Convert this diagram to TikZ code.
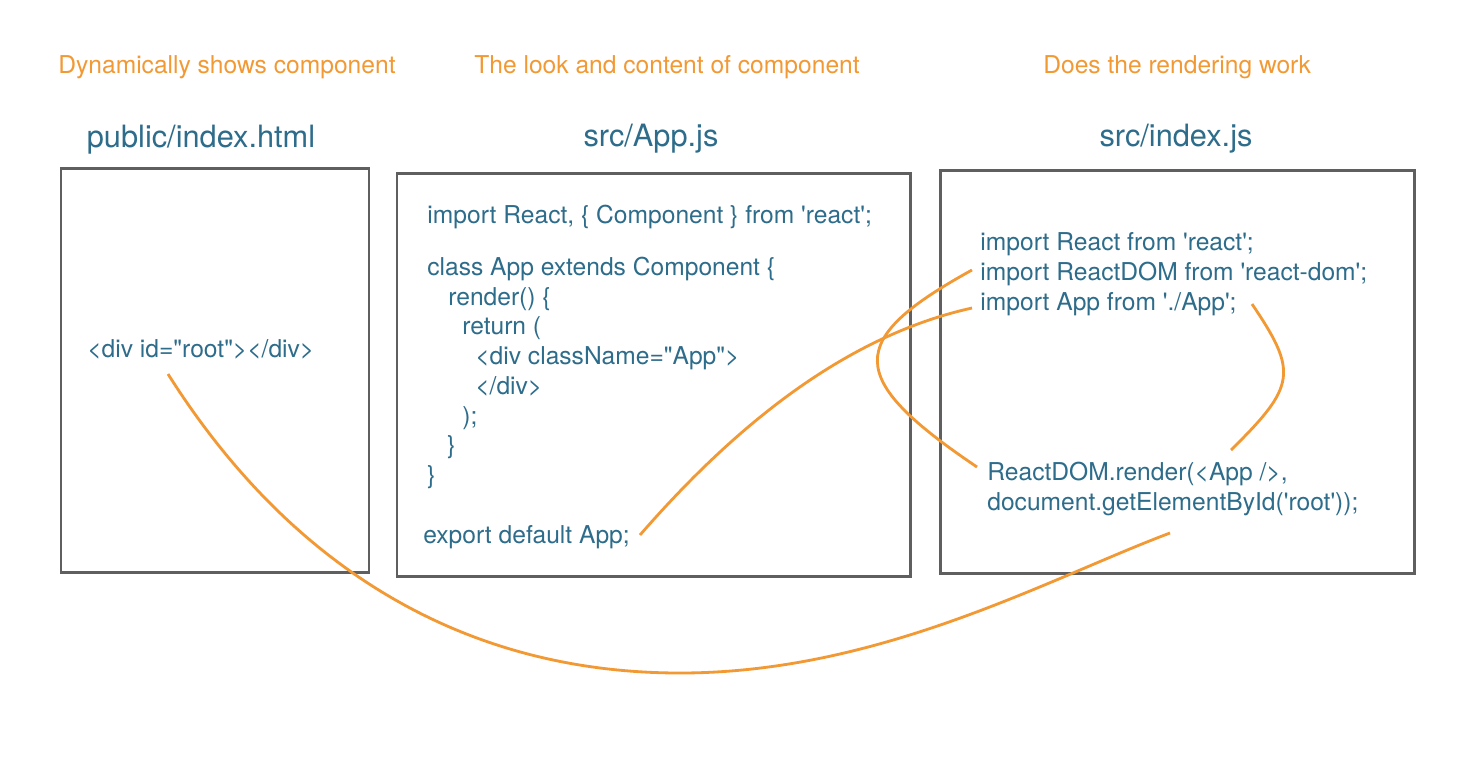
\documentclass[tikz,border=0pt]{standalone}
\usepackage{fontspec}
\newfontfamily\helv{TeX Gyre Heros}
\definecolor{mycode}{RGB}{45,108,138}
\definecolor{myorange}{RGB}{242,153,52}
\definecolor{mygray}{RGB}{95,95,95}
\usetikzlibrary{positioning}
\tikzstyle{filebox}=[draw=mygray,line width=1.7pt]
\tikzstyle{codeline}=[anchor=base west,inner sep=0pt,text=mycode,font=\helv\fontsize{14}{17}\selectfont]
\tikzstyle{filename}=[anchor=base,inner sep=0pt,text=mycode,font=\helv\fontsize{17.5}{21}\selectfont]
\tikzstyle{role}=[anchor=base west,inner sep=0pt,text=myorange,font=\helv\fontsize{14}{17}\selectfont]
\tikzstyle{link}=[draw=myorange,line width=1.6pt]

\begin{document}
\begin{tikzpicture}[x=0.02cm,y=-0.02cm]
\fill[white] (0,0) rectangle (1484,772);
\useasboundingbox (0,0) rectangle (1484,772);
% what each file is for
\node[role] (role1) at (58,73) {Dynamically shows component};
\node[role] (role2) at (474,73) {The look and content of component};
\node[role] (role3) at (1043,73) {Does the rendering work};
% file names
\node[filename] (html) at (201,147) {public/index.html};
\node[filename] (appjs) at (651,146) {src/App.js};
\node[filename] (indexjs) at (1176,146) {src/index.js};
% boxes
\draw[filebox] (61,168) rectangle (369,572);
\draw[filebox] (397,173) rectangle (910,576);
\draw[filebox] (940,170) rectangle (1414,573);
% public/index.html
\node[codeline] (root) at (87,357) {<div id="root"></div>};
% src/App.js
\foreach \x/\y/\txt [count=\i] in {
  427/223/{import React, \{ Component \} from 'react';},
  427/275/{class App extends Component \{},
  448/305/{render() \{},
  462/334/{return (},
  475/364/{<div className="App">},
  475/394/{</div>},
  462/424/{);},
  447/453/{\}},
  427/483/{\}},
  423/543/{export default App;}}
  \node[codeline] (app\i) at (\x,\y) {\txt};
% src/index.js
\node[codeline] (imp1) at (980,250) {import React from 'react';};
\node[codeline] (imp2) at (980,280) {import ReactDOM from 'react-dom';};
\node[codeline] (imp3) at (980,310) {import App from './App';};
\node[codeline] (render1) at (987,480) {ReactDOM.render(<App />,};
\node[codeline] (render2) at (987,510) {document.getElementById('root'));};
% links
\coordinate (a1) at (168,374);
\coordinate (a2) at (1170,533);
\coordinate (b1) at (640,535);
\coordinate (b2) at (972,308);
\coordinate (c1) at (972,270);
\coordinate (c2) at (977,467);
\coordinate (d1) at (1252,304);
\coordinate (d2) at (1231,450);
\draw[link] (a1) .. controls (288,564) and (460,673) .. (680,673) .. controls (880,673) and (1050,578) .. (a2);
\draw[link] (b1) .. controls (740,420) and (850,335) .. (b2);
\draw[link] (c1) .. controls (845,340) and (845,378) .. (c2);
\draw[link] (d1) .. controls (1298,372) and (1296,386) .. (d2);
\end{tikzpicture}
\end{document}
